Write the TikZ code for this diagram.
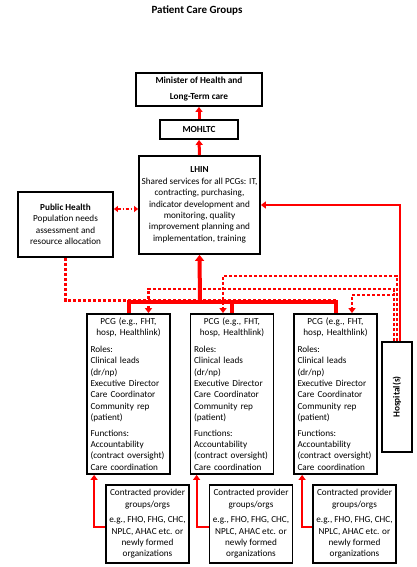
\documentclass[tikz,border=0pt]{standalone}
\usepackage{fontspec}
\setmainfont{Carlito}
\usepackage{graphicx}
\usepackage{tikz}
\usetikzlibrary{arrows.meta}

\begin{document}
\begin{tikzpicture}[
    x=1pt, y=-1pt,
    box/.style={draw, line width=1.8pt, inner sep=2pt, align=center,
      font=\fontsize{9.2}{11.4}\selectfont},
    hdr/.style={box, font=\bfseries\fontsize{9.3}{16}\selectfont},
    pcgbox/.style={box, minimum width=83pt, minimum height=160pt,
      text width=76pt, align=left},
    conbox/.style={box, minimum width=83pt, minimum height=78pt, inner xsep=1pt},
    arr/.style={-{Triangle[length=5pt, width=7pt]}, red, line width=2pt},
    bus/.style={red, line width=4pt},
    dots/.style={red, line width=2.5pt, dash pattern=on 3pt off 2pt}
  ]
  \useasboundingbox (0,0) rectangle (416,567);

  % ══ TOP: ministry chain ═══════════════════════════════════════════════════
  \node[font=\bfseries\fontsize{11}{13}\selectfont] (title) at (197,10)
    {Patient Care Groups};

  \node[hdr, minimum width=126pt, minimum height=33pt] (minister) at (199,89.5)
    {Minister of Health and\\Long-Term care};
  \node[hdr, minimum width=78pt, minimum height=19pt] (mohltc) at (199,129.5)
    {MOHLTC};

  \node[box, minimum width=121pt, minimum height=98pt] (lhin) at (199.5,205)
    {\textbf{LHIN}\\Shared services for all PCGs: IT,\\contracting, purchasing,\\
     indicator development and\\monitoring, quality\\improvement planning and\\
     implementation, training};

  \node[box, minimum width=95pt, minimum height=65pt] (ph) at (65.5,224.5)
    {\textbf{Public Health}\\Population needs\\assessment and\\resource allocation};

  % arrows up the chain
  \draw[arr, line width=3pt] (mohltc.north) -- (minister.south);
  \draw[arr, line width=3pt] (lhin.north) -- (mohltc.south);

  % ══ MIDDLE: patient care groups ═══════════════════════════════════════════
  \node[pcgbox] (pcg1) at (128.5,394)
    {\makebox[\linewidth]{PCG (e.g., FHT,}\\\makebox[\linewidth]{hosp, Healthlink)}\\[5pt]
     Roles:\\Clinical leads\\(dr/np)\\Executive Director\\Care Coordinator\\
     Community rep\\(patient)\\[4pt]
     Functions:\\Accountability\\(contract oversight)\\Care coordination};

  \node[pcgbox] (pcg2) at (232,394)
    {\makebox[\linewidth]{PCG (e.g., FHT,}\\\makebox[\linewidth]{hosp, Healthlink)}\\[5pt]
     Roles:\\Clinical leads\\(dr/np)\\Executive Director\\Care Coordinator\\
     Community rep\\(patient)\\[4pt]
     Functions:\\Accountability\\(contract oversight)\\Care coordination};

  \node[pcgbox] (pcg3) at (335.5,394)
    {\makebox[\linewidth]{PCG (e.g., FHT,}\\\makebox[\linewidth]{hosp, Healthlink)}\\[5pt]
     Roles:\\Clinical leads\\(dr/np)\\Executive Director\\Care Coordinator\\
     Community rep\\(patient)\\[4pt]
     Functions:\\Accountability\\(contract oversight)\\Care coordination};

  \node[hdr, minimum width=30pt, minimum height=110pt] (hosp) at (397,397)
    {\rotatebox{90}{Hospital(s)}};

  % levels of the horizontal runs
  \coordinate (busc) at (200,302);
  \coordinate (lvlA) at (0,276);
  \coordinate (lvlB) at (0,289);
  \coordinate (lvlC) at (0,295);

  % public health dotted feed, under the bus
  \draw[dots, line width=3pt] (ph.south) |- ([yshift=2pt]pcg3.north |- busc);

  % solid bus from LHIN to the PCGs
  \draw[bus] (pcg1.north) -- (pcg1.north |- busc) -- (pcg3.north |- busc)
    -- (pcg3.north);
  \draw[bus] (pcg2.north) -- (pcg2.north |- busc);
  \draw[arr, line width=4pt, -{Triangle[length=6pt, width=9pt]}]
    (busc) -- (lhin.south);

  % public health <-> LHIN
  \draw[red, line width=2pt, dash pattern=on 3pt off 2pt on 1pt off 2pt,
    {Triangle[length=4pt, width=6pt]}-{Triangle[length=4pt, width=6pt]}]
    ([yshift=15.5pt]ph.east) -- ([yshift=15.5pt]ph.east -| lhin.west);

  % hospital to LHIN (solid) and to the PCGs (dotted)
  \draw[arr] ([xshift=3pt]hosp.north) |- (lhin.east);
  \draw[dots, -{Triangle[length=5pt, width=7pt]}]
    (hosp.north) -- (hosp.north |- lvlA) -| ([xshift=-9pt]pcg2.north);
  \draw[dots, -{Triangle[length=5pt, width=7pt]}]
    ([xshift=-3pt]hosp.north) -- ([xshift=-3pt]hosp.north |- lvlB)
    -| ([xshift=20pt]pcg1.north);
  \draw[dots, -{Triangle[length=5pt, width=7pt]}]
    ([xshift=-3pt]hosp.north |- lvlB) -- ([xshift=-3pt]hosp.north |- lvlC)
    -| ([xshift=16.5pt]pcg3.north);

  % ══ BOTTOM: contracted providers ══════════════════════════════════════════
  \node[conbox] (con1) at (147.5,524)
    {Contracted provider\\groups/orgs\\[4pt]e.g., FHO, FHG, CHC,\\
     NPLC, AHAC etc. or\\newly formed\\organizations};
  \node[conbox] (con2) at (251,524)
    {Contracted provider\\groups/orgs\\[4pt]e.g., FHO, FHG, CHC,\\
     NPLC, AHAC etc. or\\newly formed\\organizations};
  \node[conbox] (con3) at (354.5,524)
    {Contracted provider\\groups/orgs\\[4pt]e.g., FHO, FHG, CHC,\\
     NPLC, AHAC etc. or\\newly formed\\organizations};

  % arrows from providers up to their PCG
  \draw[arr] ([yshift=-3pt]con1.west) -| ([xshift=8pt]pcg1.south west);
  \draw[arr] ([yshift=-3pt]con2.west) -| ([xshift=7pt]pcg2.south west);
  \draw[arr] ([yshift=-3pt]con3.west) -| ([xshift=9pt]pcg3.south west);

\end{tikzpicture}
\end{document}
